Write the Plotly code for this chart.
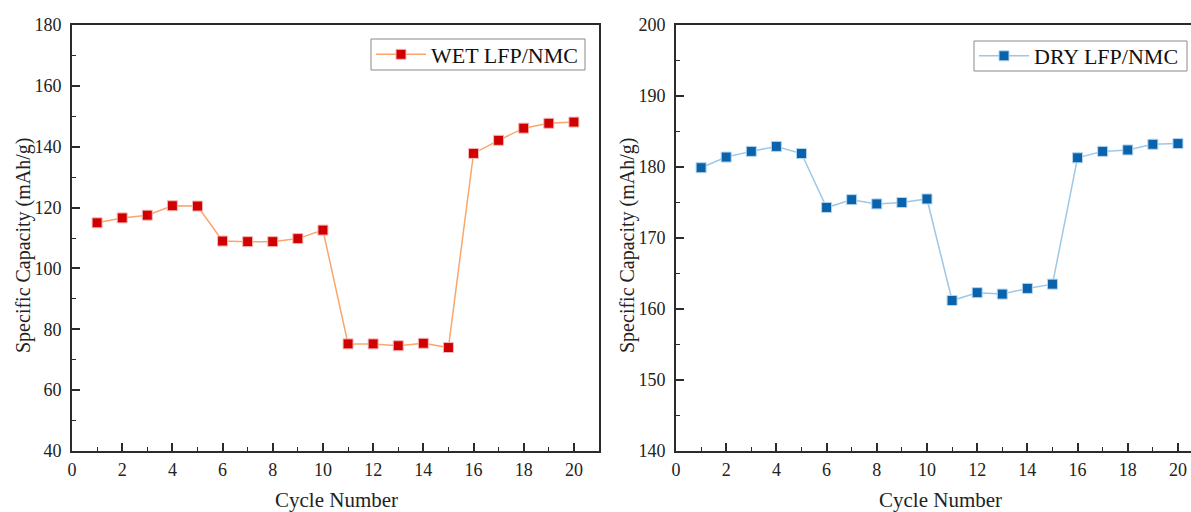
import plotly.graph_objects as go

# Cycle index shared by both cells
cycles = list(range(1, 21))

# Specific capacity (mAh/g) per cycle
wet_capacity = [115.0, 116.6, 117.5, 120.6, 120.5, 109.0, 108.8, 108.8, 109.8, 112.6,
                75.2, 75.2, 74.6, 75.4, 74.0, 137.8, 142.1, 146.1, 147.7, 148.1]
dry_capacity = [179.9, 181.4, 182.2, 182.9, 181.9, 174.3, 175.4, 174.8, 175.0, 175.5,
                161.2, 162.3, 162.1, 162.9, 163.5, 181.3, 182.2, 182.4, 183.2, 183.3]

wet_label = "WET LFP/NMC"
dry_label = "DRY LFP/NMC"
x_title = "Cycle Number"
y_title = "Specific Capacity (mAh/g)"

FONT = "Liberation Serif, Times New Roman, serif"
AXIS_COLOR = "#2b2b2b"
W, H = 1191, 512


def px_x(p):
    return p / W


def px_y(p):
    return 1 - p / H


fig = go.Figure()

fig.add_trace(go.Scatter(
    x=cycles, y=wet_capacity, name=wet_label, mode="lines+markers",
    line=dict(color="#F9A66C", width=1.5),
    marker=dict(symbol="square", size=10, color="#D00000",
                line=dict(color="#F4B8B8", width=1)),
    xaxis="x", yaxis="y", legend="legend",
))
fig.add_trace(go.Scatter(
    x=cycles, y=dry_capacity, name=dry_label, mode="lines+markers",
    line=dict(color="#9CC8E8", width=1.5),
    marker=dict(symbol="square", size=10, color="#0863AC",
                line=dict(color="#B5D4EE", width=1)),
    xaxis="x2", yaxis="y2", legend="legend2",
))

tick_font = dict(family=FONT, size=18, color="#222")
x_title_font = dict(family=FONT, size=21, color="#222")
y_title_font = dict(family=FONT, size=20, color="#222")


def x_axis(domain, rng):
    return dict(
        domain=domain, range=rng, dtick=2, tick0=0, automargin=False,
        showline=True, linecolor=AXIS_COLOR, linewidth=2, mirror=True,
        ticks="inside", ticklen=8, tickwidth=1.6, tickcolor=AXIS_COLOR,
        minor=dict(ticks="inside", ticklen=4, dtick=1, tickwidth=1.4, tickcolor=AXIS_COLOR),
        showgrid=False, zeroline=False, tickfont=tick_font, ticklabelstandoff=1,
    )


def y_axis(domain, rng, dtick, minor_dtick, anchor, mirror):
    return dict(
        domain=domain, range=rng, dtick=dtick, anchor=anchor, automargin=False,
        showline=True, linecolor=AXIS_COLOR, linewidth=2, mirror=mirror,
        ticks="inside", ticklen=8, tickwidth=1.6, tickcolor=AXIS_COLOR,
        minor=dict(ticks="inside", ticklen=4, dtick=minor_dtick, tickwidth=1.4, tickcolor=AXIS_COLOR),
        showgrid=False, zeroline=False, tickfont=tick_font, ticklabelstandoff=5,
    )


y_dom = [px_y(451), px_y(25)]
legend_font = dict(family=FONT, size=22, color="#111")

fig.update_layout(
    width=W, height=H,
    margin=dict(l=0, r=0, t=0, b=0),
    paper_bgcolor="white", plot_bgcolor="white",
    showlegend=True,
    xaxis=x_axis([px_x(72), px_x(599)], [0, 21]),
    yaxis=y_axis(y_dom, [40, 180], 20, 10, "x", True),
    xaxis2=dict(x_axis([px_x(676), 1.0], [0, 20.52]), anchor="y2"),
    yaxis2=y_axis(y_dom, [140, 200], 10, 5, "x2", False),
    legend=dict(
        x=px_x(371), y=px_y(54.5), xanchor="left", yanchor="middle",
        bgcolor="rgba(0,0,0,0)", borderwidth=0,
        font=legend_font, itemwidth=50, tracegroupgap=0,
    ),
    legend2=dict(
        x=px_x(974), y=px_y(56), xanchor="left", yanchor="middle",
        bgcolor="rgba(0,0,0,0)", borderwidth=0,
        font=legend_font, itemwidth=50, tracegroupgap=0,
    ),
)

# Legend frames
for x0, x1, y0, y1 in ((371, 585, 39, 70), (974, 1187, 41, 71)):
    fig.add_shape(type="rect", xref="paper", yref="paper",
                  x0=px_x(x0), x1=px_x(x1), y0=px_y(y1), y1=px_y(y0),
                  line=dict(color="#8a8a8a", width=1), fillcolor="white", layer="below")

# Axis titles, placed under / beside each panel
for cx in (336, 940):
    fig.add_annotation(x=px_x(cx), y=px_y(500), xref="paper", yref="paper",
                       text=x_title, showarrow=False, font=x_title_font,
                       xanchor="center", yanchor="middle")
for cx in (23, 627):
    fig.add_annotation(x=px_x(cx), y=px_y(245), xref="paper", yref="paper",
                       text=y_title, showarrow=False, font=y_title_font, textangle=-90,
                       xanchor="center", yanchor="middle")

fig.write_html("out.html")
